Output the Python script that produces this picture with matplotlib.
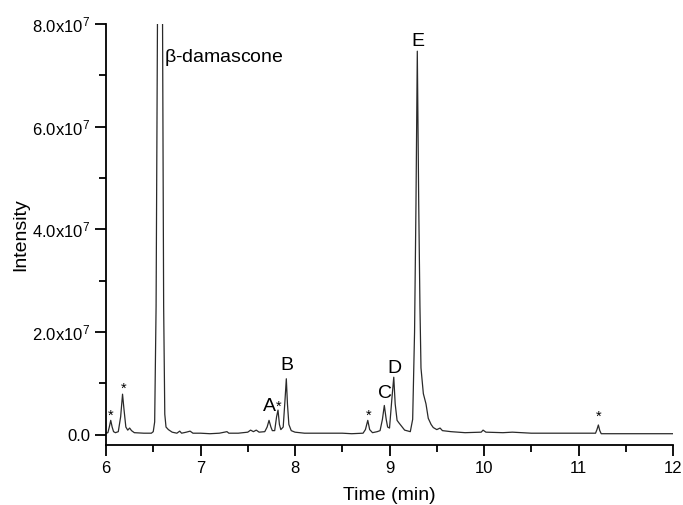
import matplotlib
matplotlib.use('Agg')
import matplotlib.pyplot as plt
from matplotlib.ticker import MultipleLocator, FuncFormatter
import numpy as np

plt.rcParams['font.family'] = ['Liberation Sans', 'DejaVu Sans']
plt.rcParams['mathtext.fontset'] = 'custom'
plt.rcParams['mathtext.rm'] = 'Liberation Sans'

# chromatogram trace (time in min, intensity in 1e6 counts)
time_min = [6.00, 6.02, 6.035, 6.05, 6.065, 6.08, 6.10, 6.13, 6.155, 6.175, 6.19, 6.21,
            6.23, 6.25, 6.27, 6.30, 6.40, 6.48, 6.50, 6.515, 6.53, 6.545, 6.57, 6.598,
            6.61, 6.622, 6.635, 6.66, 6.70, 6.75, 6.78, 6.80, 6.85, 6.89, 6.92, 7.00,
            7.10, 7.20, 7.28, 7.30, 7.40, 7.50, 7.53, 7.56, 7.59, 7.62, 7.68, 7.705,
            7.725, 7.745, 7.76, 7.785, 7.805, 7.82, 7.835, 7.85, 7.875, 7.895, 7.908, 7.92,
            7.935, 7.96, 8.00, 8.10, 8.30, 8.50, 8.60, 8.72, 8.745, 8.77, 8.79, 8.82,
            8.87, 8.90, 8.925, 8.945, 8.965, 8.98, 9.00, 9.025, 9.045, 9.06, 9.08, 9.10,
            9.16, 9.22, 9.245, 9.265, 9.28, 9.294, 9.309, 9.322, 9.333, 9.358, 9.386, 9.41,
            9.44, 9.463, 9.50, 9.535, 9.56, 9.65, 9.80, 9.97, 9.99, 10.02, 10.20, 10.30,
            10.50, 10.80, 11.00, 11.18, 11.195, 11.21, 11.225, 11.24, 11.40, 11.70, 12.00]
intensity_1e6 = [0.3, 0.4, 1.5, 2.8, 1.5, 0.6, 0.4, 0.6, 3.5, 7.9, 5.0, 1.5,
                 0.9, 1.3, 0.8, 0.4, 0.3, 0.3, 0.6, 2.5, 25, 82, 130, 82,
                 25, 4.0, 1.5, 1.0, 0.5, 0.3, 0.7, 0.3, 0.5, 0.7, 0.3, 0.3,
                 0.2, 0.3, 0.6, 0.3, 0.3, 0.5, 0.9, 0.6, 0.9, 0.5, 0.6, 1.5,
                 2.8, 1.5, 0.8, 0.8, 3.5, 4.8, 2.0, 1.0, 1.5, 7.0, 10.9, 6.0,
                 2.0, 0.8, 0.5, 0.3, 0.3, 0.3, 0.2, 0.3, 1.0, 2.8, 1.0, 0.4,
                 0.6, 0.8, 3.0, 5.7, 3.0, 1.5, 1.3, 7.0, 11.2, 6.0, 2.8, 2.3,
                 0.9, 0.6, 3.0, 20, 45, 74.7, 45, 25, 13, 8.0, 6.0, 3.2,
                 2.0, 1.4, 1.0, 1.3, 0.8, 0.6, 0.4, 0.5, 0.9, 0.5, 0.4, 0.5,
                 0.3, 0.3, 0.3, 0.3, 1.0, 1.9, 0.8, 0.2, 0.2, 0.2, 0.2]

# peak labels: text, time, intensity (1e6) of the label anchor
label_text = ['*', '*', 'A', '*', 'B', '*', 'C', 'D', 'E', '*']
label_time = [6.053, 6.183, 7.725, 7.831, 7.918, 8.776, 8.952, 9.048, 9.305, 11.217]
label_int_1e6 = [3.6, 9.0, 5.5, 5.5, 13.5, 3.6, 8.1, 12.9, 76.6, 3.4]

fig = plt.figure(figsize=(6.83, 5.05), dpi=100)
ax = fig.add_axes([0.1552, 0.1188, 0.8302, 0.8337])

ax.plot(time_min, np.array(intensity_1e6) * 1e6, color='#2a2a2a', lw=0.9)

for txt, t, v in zip(label_text, label_time, label_int_1e6):
    if txt == '*':
        ax.text(t, v * 1e6, txt, ha='center', va='center', fontsize=10.5)
    else:
        ax.text(t, v * 1e6, txt, ha='center', va='center', fontsize=14)
ax.text(6.614, 7.35e7, r'$\mathregular{\beta}$-damascone', ha='left', va='center', fontsize=14)

ax.set_xlim(6, 12)
ax.set_ylim(-2.0e6, 8.0e7)
ax.spines['top'].set_visible(False)
ax.spines['right'].set_visible(False)
for s in ['left', 'bottom']:
    ax.spines[s].set_linewidth(1.3)

ax.xaxis.set_major_locator(MultipleLocator(1))
ax.xaxis.set_minor_locator(MultipleLocator(0.5))
ax.yaxis.set_major_locator(MultipleLocator(2e7))
ax.yaxis.set_minor_locator(MultipleLocator(1e7))


def yfmt(v, pos):
    if abs(v) < 1:
        return '0.0'
    return r'$\mathregular{%.1fx10^7}$' % (v / 1e7)


ax.yaxis.set_major_formatter(FuncFormatter(yfmt))
ax.tick_params(which='major', direction='out', length=8, width=1.3, labelsize=12)
ax.tick_params(which='minor', direction='out', length=5, width=1.3)

ax.set_xlabel('Time (min)', fontsize=14, labelpad=8)
ax.set_ylabel('Intensity', fontsize=14, labelpad=2)

fig.savefig('out.png', dpi=100)
